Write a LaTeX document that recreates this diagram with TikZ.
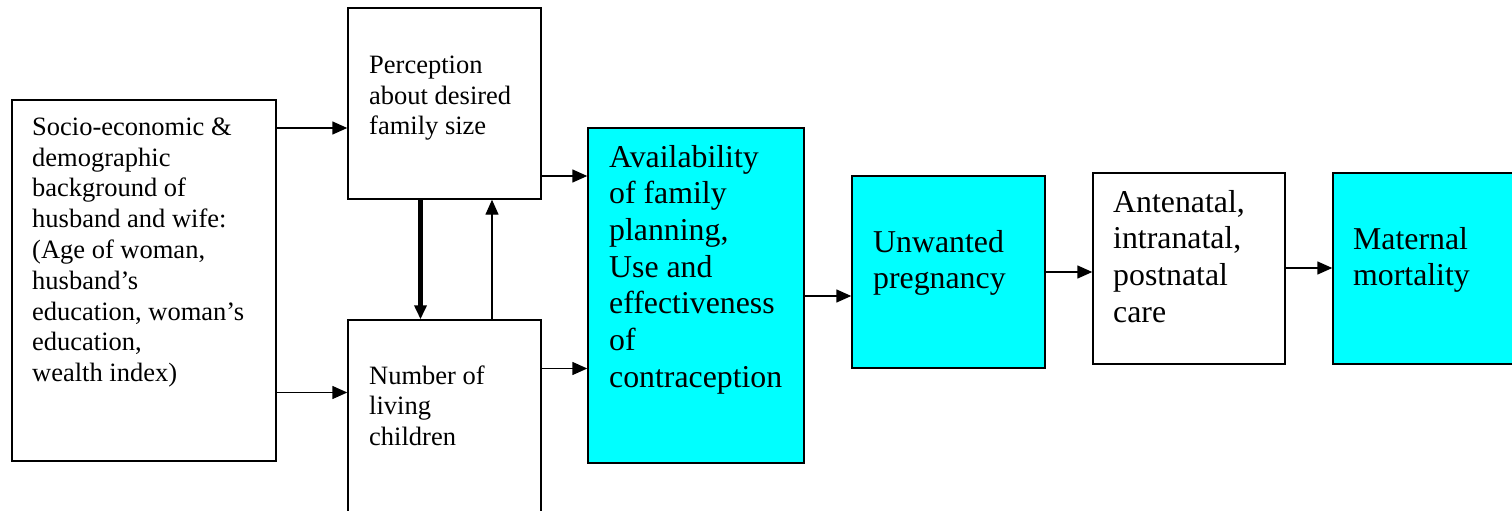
\documentclass[tikz,border=0pt]{standalone}
\usepackage{fontspec}
\setmainfont{Liberation Serif}
\usetikzlibrary{arrows.meta}
\newcommand{\smalltxt}{\fontsize{26.5}{30.8}\selectfont}
\newcommand{\bigtxt}{\fontsize{31.8}{36.7}\selectfont}
\definecolor{boxcyan}{HTML}{00FFFF}
\tikzset{
  box/.style={draw=black, line width=1.4pt, rectangle, inner sep=0pt},
  cbox/.style={box, fill=boxcyan},
  txt/.style={anchor=north west, inner sep=0pt, align=left},
  stxt/.style={txt, font=\smalltxt},
  btxt/.style={txt, font=\bigtxt},
  arr/.style={line width=1.4pt, -{Triangle[length=15pt,width=13pt]}},
  thickarr/.style={line width=4.5pt, -{Triangle[length=14pt,width=12pt]}},
}
\begin{document}
\begin{tikzpicture}[x=1pt,y=-1pt]
\clip (0,0) rectangle (1512,511);
\fill[white] (0,0) rectangle (1512,511);
% boxes
\node[box, minimum width=264pt, minimum height=361pt] (socio) at (144,280.5) {};
\node[box, minimum width=193pt, minimum height=191pt] (perc) at (444.5,103.5) {};
\node[box, minimum width=193pt, minimum height=210pt] (num) at (444.5,425) {};
\node[cbox, minimum width=216pt, minimum height=335pt] (avail) at (696,295.5) {};
\node[cbox, minimum width=193pt, minimum height=192pt] (unw) at (948.5,272) {};
\node[box, minimum width=192pt, minimum height=191pt] (ante) at (1189,268.5) {};
\node[cbox, minimum width=200pt, minimum height=191pt] (mat) at (1433,268.5) {};
% texts
\node[stxt] (tsocio) at (32,113.6) {\strut Socio-economic \&\\demographic\\background of\\husband and wife:\\(Age of woman,\\husband’s\\education, woman’s\\education,\\wealth index)};
\node[stxt] (tperc) at (369,51.6) {\strut Perception\\about desired\\family size};
\node[stxt] (tnum) at (369,362.4) {\strut Number of\\living\\children};
\node[btxt] (tavail) at (609,141.3) {\strut Availability\\of family\\planning,\\Use and\\effectiveness\\of\\contraception};
\node[btxt] (tunw) at (873,226.3) {\strut Unwanted\\pregnancy};
\node[btxt] (tante) at (1113,186.3) {\strut Antenatal,\\intranatal,\\postnatal\\care};
\node[btxt] (tmat) at (1353,223.3) {\strut Maternal\\mortality};
% connectors
\draw[arr] (socio.east |- 0,128) -- (perc.west |- 0,128);
\draw[arr] (socio.east |- 0,392.5) -- (num.west |- 0,392.5);
\draw[arr] (perc.east |- 0,176) -- (avail.west |- 0,176);
\draw[arr] (num.east |- 0,368.5) -- (avail.west |- 0,368.5);
\draw[arr] (avail.east |- 0,296) -- (unw.west |- 0,296);
\draw[arr] (unw.east |- 0,272) -- (ante.west |- 0,272);
\draw[arr] (ante.east |- 0,268) -- (mat.west |- 0,268);
\draw[thickarr] (perc.south -| 420.5,0) -- (num.north -| 420.5,0);
\draw[arr] (num.north -| 492,0) -- (perc.south -| 492,0);
\end{tikzpicture}
\end{document}
